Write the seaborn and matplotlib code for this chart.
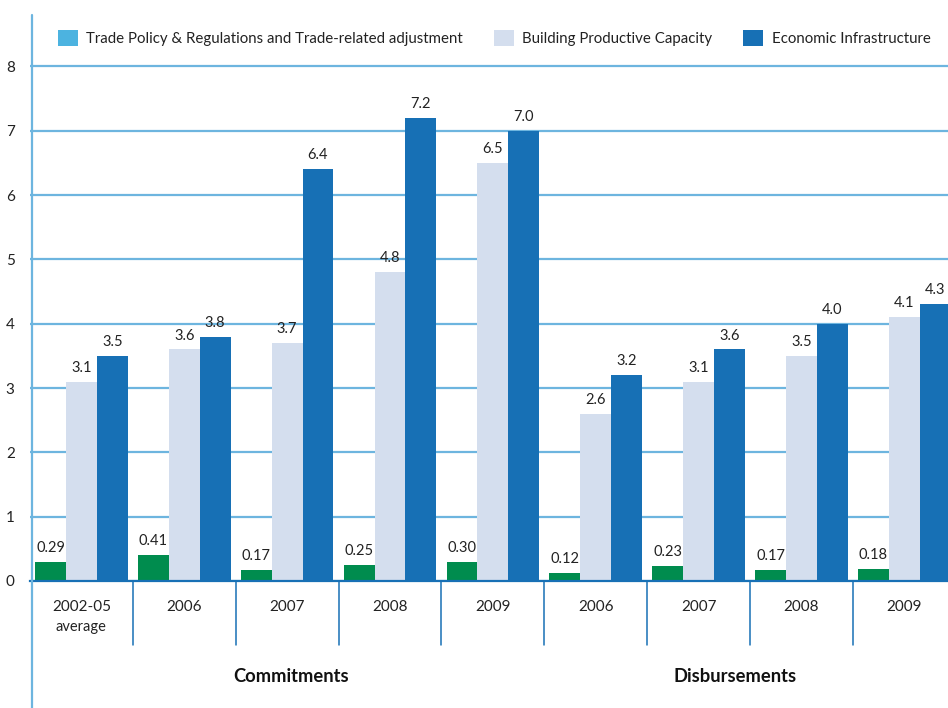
import matplotlib
matplotlib.use("Agg")
import matplotlib.pyplot as plt
from matplotlib.patches import Patch
from matplotlib.lines import Line2D
import seaborn as sns
import pandas as pd

# ---- data ----
categories = ["C 2002-05", "C 2006", "C 2007", "C 2008", "C 2009",
              "D 2006", "D 2007", "D 2008", "D 2009"]
tick_labels = ["2002-05", "2006", "2007", "2008", "2009",
               "2006", "2007", "2008", "2009"]
series = ["Trade Policy & Regulations and Trade-related adjustment",
          "Building Productive Capacity", "Economic Infrastructure"]
trade_policy = [0.29, 0.41, 0.17, 0.25, 0.30, 0.12, 0.23, 0.17, 0.18]
productive_capacity = [3.1, 3.6, 3.7, 4.8, 6.5, 2.6, 3.1, 3.5, 4.1]
infrastructure = [3.5, 3.8, 6.4, 7.2, 7.0, 3.2, 3.6, 4.0, 4.3]
label_formats = ["{:.2f}", "{:.1f}", "{:.1f}"]
groups = ["Commitments", "Disbursements"]
yticks = [0, 1, 2, 3, 4, 5, 6, 7, 8]

bar_colors = ["#008C4E", "#D4DEEE", "#1770B5"]
legend_colors = ["#4CB3E0", "#D4DEEE", "#1770B5"]

rows = []
for s, vals in zip(series, [trade_policy, productive_capacity, infrastructure]):
    for c, v in zip(categories, vals):
        rows.append({"category": c, "series": s, "value": v})
df = pd.DataFrame(rows)

sns.set_theme(style="white")
plt.rcParams["font.family"] = ["Lato", "DejaVu Sans"]

fig = plt.figure(figsize=(9.48, 7.08), dpi=100)
ax = fig.add_axes([30 / 948, 1 - 581 / 708, 1 - 30 / 948, (581 - 15) / 708])

sns.barplot(data=df, x="category", y="value", hue="series", order=categories,
            hue_order=series, palette=bar_colors, width=0.9, saturation=1,
            linewidth=0, ax=ax, legend=False, zorder=3)

grid_color = "#6DB5DF"
ax.set_ylim(0, 8.8)
ax.set_xlim(-0.5, 8.425)
ax.set_yticks(yticks)
ax.set_yticklabels([str(t) for t in yticks], fontsize=11, color="#222222")
ax.yaxis.grid(True, color=grid_color, linewidth=1.6, zorder=0)
ax.set_axisbelow(True)
ax.tick_params(axis="y", length=0, pad=11)
ax.tick_params(axis="x", length=0, pad=14)
ax.set_xticks(range(len(categories)))
ax.set_xticklabels(tick_labels, fontsize=11, color="#222222")
ax.set_xlabel("")
ax.set_ylabel("")
for sp in ["top", "right"]:
    ax.spines[sp].set_visible(False)
ax.spines["left"].set_visible(False)
ax.spines["bottom"].set_color("#1770B5")
ax.spines["bottom"].set_linewidth(1.6)
ax.spines["bottom"].set_zorder(4)

# left axis line extending to the bottom of the figure
x_left = 32 / 948
fig.add_artist(Line2D([x_left, x_left], [0, 1 - 15 / 708], color=grid_color,
                      linewidth=1.6, transform=fig.transFigure))

# data labels
for cont, fmt in zip(ax.containers, label_formats):
    ax.bar_label(cont, labels=[fmt.format(v) for v in cont.datavalues],
                 padding=5, fontsize=10.5, color="#222222")

# separators under the axis
for i in range(len(categories) - 1):
    ax.plot([i + 0.5, i + 0.5], [0, -0.99], color="#1770B5", linewidth=1.1,
            clip_on=False, zorder=4)

ax.text(0, -0.72, "average", ha="center", va="center", fontsize=10.5,
        color="#222222", clip_on=False)

ax.text(2.04, -1.49, groups[0], ha="center", va="center", fontsize=13.2,
        fontweight="bold", color="#111111", clip_on=False)
ax.text(6.35, -1.49, groups[1], ha="center", va="center", fontsize=13.2,
        fontweight="bold", color="#111111", clip_on=False)

handles = [Patch(facecolor=c, edgecolor="none") for c in legend_colors]
fig.legend(handles, series, loc="center left",
           bbox_to_anchor=(58 / 948, 1 - 38 / 708), ncol=3, frameon=False,
           fontsize=10.8, handlelength=1.3, handleheight=1.3,
           handletextpad=0.6, columnspacing=2.05, borderaxespad=0,
           borderpad=0, labelcolor="#222222")

fig.savefig("out.png", dpi=100)
